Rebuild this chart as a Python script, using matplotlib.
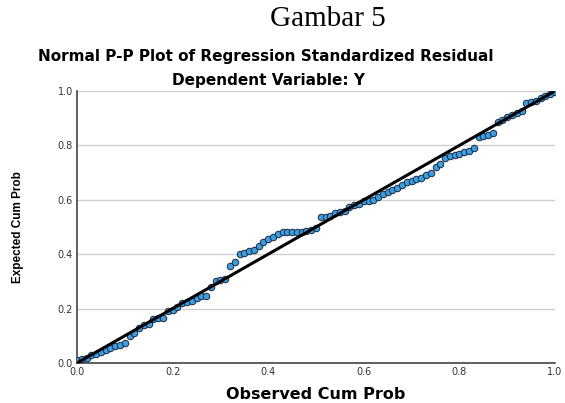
import matplotlib
matplotlib.use("Agg")
import matplotlib.pyplot as plt
import numpy as np

# observed vs expected cumulative probabilities
observed = [0.00, 0.01, 0.02, 0.03, 0.04, 0.05, 0.06, 0.07, 0.08, 0.09,
            0.10, 0.11, 0.12, 0.13, 0.14, 0.15, 0.16, 0.17, 0.18, 0.19,
            0.20, 0.21, 0.22, 0.23, 0.24, 0.25, 0.26, 0.27, 0.28, 0.29,
            0.30, 0.31, 0.32, 0.33, 0.34, 0.35, 0.36, 0.37, 0.38, 0.39,
            0.40, 0.41, 0.42, 0.43, 0.44, 0.45, 0.46, 0.47, 0.48, 0.49,
            0.50, 0.51, 0.52, 0.53, 0.54, 0.55, 0.56, 0.57, 0.58, 0.59,
            0.60, 0.61, 0.62, 0.63, 0.64, 0.65, 0.66, 0.67, 0.68, 0.69,
            0.70, 0.71, 0.72, 0.73, 0.74, 0.75, 0.76, 0.77, 0.78, 0.79,
            0.80, 0.81, 0.82, 0.83, 0.84, 0.85, 0.86, 0.87, 0.88, 0.89,
            0.90, 0.91, 0.92, 0.93, 0.94, 0.95, 0.96, 0.97, 0.98, 0.99,
            1.00]
expected = [0.012, 0.015, 0.020, 0.028, 0.033, 0.042, 0.048, 0.055, 0.062, 0.068,
            0.072, 0.100, 0.110, 0.128, 0.138, 0.145, 0.162, 0.165, 0.166, 0.190,
            0.195, 0.205, 0.222, 0.226, 0.228, 0.240, 0.245, 0.248, 0.280, 0.300,
            0.305, 0.310, 0.355, 0.370, 0.400, 0.405, 0.410, 0.415, 0.430, 0.445,
            0.455, 0.465, 0.475, 0.480, 0.480, 0.480, 0.480, 0.482, 0.485, 0.490,
            0.495, 0.535, 0.535, 0.540, 0.550, 0.555, 0.560, 0.575, 0.580, 0.585,
            0.595, 0.595, 0.600, 0.610, 0.620, 0.630, 0.635, 0.645, 0.655, 0.665,
            0.670, 0.675, 0.680, 0.690, 0.700, 0.720, 0.730, 0.755, 0.760, 0.765,
            0.770, 0.775, 0.780, 0.790, 0.830, 0.835, 0.840, 0.845, 0.885, 0.895,
            0.905, 0.910, 0.920, 0.925, 0.955, 0.960, 0.965, 0.975, 0.980, 0.990,
            0.995]
ticks = [0.0, 0.2, 0.4, 0.6, 0.8, 1.0]
tick_labels = ["0.0", "0.2", "0.4", "0.6", "0.8", "1.0"]

fig = plt.figure(figsize=(5.65, 4.03), dpi=100)
ax = fig.add_axes([77 / 565, 1 - 363 / 403, 478 / 565, 272 / 403])

fig.text(328 / 565, 1 - 19 / 403, "Gambar 5", ha="center", va="center",
         family="Liberation Serif", fontsize=21)
fig.text(266 / 565, 1 - 57 / 403, "Normal P-P Plot of Regression Standardized Residual",
         ha="center", va="center", family="DejaVu Sans", weight="bold", fontsize=11)
fig.text(269 / 565, 1 - 80 / 403, "Dependent Variable: Y",
         ha="center", va="center", family="DejaVu Sans", weight="bold", fontsize=11)

ax.scatter(observed, expected, s=22, color="#3a9fe0", edgecolor="#1a2a40",
           linewidth=0.7, zorder=3)
ax.plot([0, 1], [0, 1], color="black", lw=2.2, zorder=4, solid_capstyle="butt")

ax.set_xlim(0, 1)
ax.set_ylim(0, 1)
ax.set_xticks(ticks)
ax.set_xticklabels(tick_labels, family="DejaVu Sans")
ax.set_yticks(ticks)
ax.set_yticklabels(tick_labels, family="DejaVu Sans")
ax.tick_params(length=0, labelsize=7, colors="#333333", pad=3)
ax.grid(axis="y", color="#d0d0d0", lw=1)
ax.set_axisbelow(True)
for s in ["top", "right"]:
    ax.spines[s].set_visible(False)
for s in ["left", "bottom"]:
    ax.spines[s].set_color("#444444")
    ax.spines[s].set_linewidth(1.2)

ax.set_xlabel("Observed Cum Prob", family="DejaVu Sans", weight="bold",
              fontsize=11.5, labelpad=7)
ax.set_ylabel("Expected Cum Prob", family=["Liberation Sans Narrow", "Liberation Sans"],
              weight="bold", fontsize=8.5, labelpad=24)

fig.savefig("out.png", dpi=100)
